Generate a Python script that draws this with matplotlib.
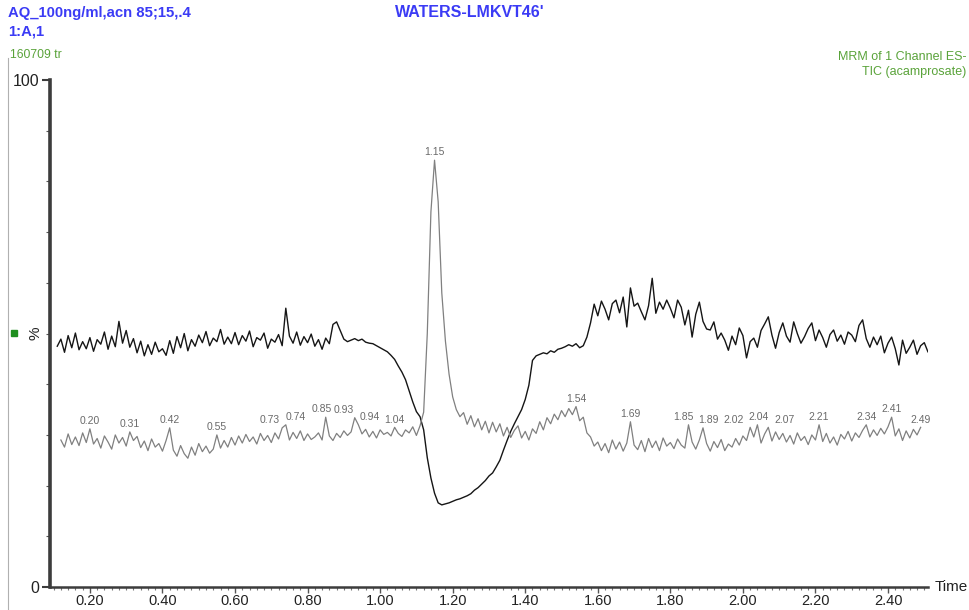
import numpy as np
import matplotlib.pyplot as plt
from matplotlib.ticker import MultipleLocator
from matplotlib.transforms import blended_transform_factory
from matplotlib.lines import Line2D

plt.rcParams['font.family'] = ['Liberation Sans', 'DejaVu Sans']

# scan grid (min) and intensities (%) of the two chromatogram traces
scan_step = 0.01
tic_start = 0.11
tic_values = [
    47.5, 48.9, 46.3, 49.6, 47.2, 50.1, 46.8, 48.4, 47.0, 49.2,
    46.5, 48.8, 47.9, 50.3, 46.9, 49.5, 47.4, 52.4, 48.1, 50.6,
    47.3, 49.0, 46.2, 48.5, 45.6, 47.8, 45.9, 48.3, 46.4, 47.0,
    45.7, 48.6, 46.1, 49.4, 47.2, 50.0, 46.6, 48.8, 47.5, 49.7,
    48.2, 50.4, 47.6, 49.1, 48.4, 50.8, 47.9, 49.3, 48.0, 50.2,
    47.8, 49.6, 48.5, 50.5, 47.4, 49.2, 48.7, 50.1, 47.1, 48.9,
    48.3, 49.8, 47.6, 55.0, 49.5, 48.1, 50.3, 47.7, 49.4, 48.2,
    49.9, 47.5, 48.8, 46.9, 49.1, 48.0, 51.8, 52.3, 50.6, 48.9,
    48.4, 48.7, 49.0, 48.6, 48.9, 48.3, 48.1, 48.0, 47.6, 47.2,
    46.8, 46.4, 45.7, 44.9, 43.6, 42.4, 40.9, 38.7, 36.5, 34.6,
    33.6, 31.0, 25.5, 21.5, 18.5, 16.6, 16.2, 16.4, 16.6, 16.9,
    17.2, 17.4, 17.7, 18.0, 18.4, 19.1, 19.6, 20.3, 21.0, 21.9,
    22.5, 23.7, 25.0, 27.0, 28.9, 30.7, 32.2, 33.6, 35.0, 37.0,
    39.8, 44.7, 45.6, 45.9, 46.2, 46.0, 46.6, 46.3, 46.9, 47.1,
    47.4, 47.8, 47.5, 48.0, 47.2, 47.6, 49.3, 52.1, 55.8, 53.5,
    56.4, 54.8, 52.7, 55.9, 56.6, 54.1, 57.2, 51.3, 59.0, 55.4,
    56.0, 54.3, 52.7, 55.5, 60.9, 54.0, 56.2, 54.8, 56.6, 55.0,
    53.1, 56.6, 55.2, 51.7, 54.6, 49.3, 53.8, 56.2, 52.4, 50.9,
    50.7, 52.3, 48.9, 50.1, 48.7, 46.7, 49.5, 47.8, 51.1, 49.6,
    45.2, 48.4, 49.1, 47.3, 50.6, 51.9, 53.3, 49.7, 47.1, 50.2,
    52.1, 49.5, 48.3, 52.3, 50.0, 48.1, 49.4, 51.0, 52.1, 48.6,
    50.7, 49.2, 47.3, 49.8, 50.7, 48.5, 49.7, 47.9, 50.3, 49.7,
    48.4, 51.6, 52.7, 49.0, 47.3, 49.3, 47.8, 49.5, 46.2, 48.1,
    49.3, 47.0, 43.8, 48.7, 46.1, 47.3, 48.7, 45.9, 47.6, 48.2,
    46.4,
]

mrm_start = 0.12
mrm_values = [
    29.0, 27.6, 30.2, 28.1, 29.6, 27.9, 30.4, 28.5, 31.2, 28.2,
    29.3, 27.4, 29.8, 28.6, 27.2, 30.0, 28.4, 29.5, 27.8, 30.6,
    28.9, 29.7, 27.5, 28.8, 26.9, 29.2, 27.6, 28.3, 26.8, 28.9,
    31.4, 27.0, 25.8, 27.9, 26.3, 25.4, 27.6, 26.0, 28.3, 26.7,
    27.8, 26.4, 27.2, 30.0, 27.4, 28.9, 27.6, 29.5, 28.0, 29.8,
    28.4, 30.1, 28.7, 29.6, 28.2, 30.3, 28.9, 29.9, 28.5, 30.4,
    29.2, 31.4, 32.0, 29.0, 30.5, 29.3, 30.8, 28.9, 30.2, 29.1,
    29.6, 30.4, 29.0, 33.5, 29.8, 28.9, 30.3, 29.5, 30.8, 29.9,
    30.6, 33.4, 32.0, 30.2, 31.1, 29.6, 30.7, 29.4, 31.0, 30.1,
    30.5, 29.8, 31.5, 30.3, 29.7, 31.0, 30.4, 31.6, 29.9, 31.8,
    34.5, 50.0, 74.0, 84.2, 76.0, 58.0, 48.5, 42.0, 37.5, 35.0,
    33.6, 34.4, 32.1, 33.8, 31.6, 33.2, 31.0, 32.7, 30.4, 32.5,
    30.6, 32.2, 29.8, 31.5, 29.5, 30.9, 31.8, 29.4, 30.7, 29.0,
    31.2, 30.3, 32.6, 31.0, 33.4, 32.2, 34.1, 33.0, 34.8, 33.6,
    35.2, 34.0, 35.6, 32.8, 33.5, 30.4, 29.6, 27.8, 28.6, 26.9,
    28.3, 26.5, 29.0, 27.2, 28.6, 26.8, 28.4, 32.6, 28.0, 27.1,
    28.9, 26.7, 29.3, 27.5, 28.8, 26.9, 29.4, 27.8, 28.5, 27.3,
    29.2, 28.0, 27.4, 32.0, 28.6, 27.2, 29.0, 31.4, 28.3, 26.8,
    28.7, 27.5, 29.1, 26.9, 28.2, 27.6, 29.3, 28.0, 29.8, 28.9,
    31.5, 29.6, 32.0, 28.4, 30.2, 31.5, 28.8, 30.6, 29.1, 30.3,
    28.6, 29.9, 28.2, 30.4, 28.9, 29.7, 28.1, 30.0, 29.0, 32.0,
    28.7, 30.3, 28.4, 29.6, 28.0, 30.1, 29.2, 30.7, 28.8, 30.4,
    29.5, 30.9, 32.0, 29.6, 31.0, 29.9, 31.3, 30.2, 31.6, 33.5,
    29.8, 31.2, 28.9, 30.8, 29.4, 31.1, 30.0, 31.5,
]

# retention times annotated on the lower trace
peak_labels = ['0.20', '0.31', '0.42', '0.55', '0.73', '0.74', '0.85', '0.93',
               '0.94', '1.04', '1.15', '1.54', '1.69', '1.85', '1.89', '2.02',
               '2.04', '2.07', '2.21', '2.34', '2.41', '2.49']

x_ticks = [0.20, 0.40, 0.60, 0.80, 1.00, 1.20, 1.40, 1.60, 1.80, 2.00, 2.20, 2.40]

# sideways nudge (points) for labels that would collide
label_nudge = {'0.73': -9, '0.74': 7, '0.85': -3, '0.93': -8, '0.94': 8,
               '1.85': -4, '1.89': 4, '2.02': -12, '2.04': 1, '2.07': 12}

tic_time = np.round(tic_start + scan_step * np.arange(len(tic_values)), 2)
mrm_time = np.round(mrm_start + scan_step * np.arange(len(mrm_values)), 2)

blue = '#3b3bf5'
green = '#5aa33a'

fig = plt.figure(figsize=(9.69, 6.10), dpi=100)
ax = fig.add_axes([0.0516, 0.0377, 0.906, 0.831])

ax.plot(tic_time, tic_values, color='#151515', lw=1.0)
ax.plot(mrm_time, mrm_values, color='#808080', lw=0.9)

# peak annotations
for lab in peak_labels:
    t = float(lab)
    i = int(np.argmin(np.abs(mrm_time - t)))
    ax.annotate(lab, (t, mrm_values[i]), xytext=(label_nudge.get(lab, 0), 2),
                textcoords='offset points', fontsize=7.5, color='#6a6a6a',
                ha='center', va='bottom')

ax.set_xlim(0.09, 2.51)
ax.set_ylim(0, 100)

for side in ['top', 'right']:
    ax.spines[side].set_visible(False)
ax.spines['left'].set_linewidth(2.6)
ax.spines['left'].set_color('#3c3c3c')
ax.spines['bottom'].set_linewidth(1.8)
ax.spines['bottom'].set_color('#3c3c3c')

ax.set_xticks(x_ticks)
ax.set_xticklabels(['%.2f' % v for v in x_ticks])
ax.xaxis.set_minor_locator(MultipleLocator(0.02))
ax.tick_params(axis='x', which='major', length=4, width=1, color='#555555',
               labelsize=10.5, pad=1, labelcolor='#222222')
ax.tick_params(axis='x', which='minor', length=2.5, width=0.8, color='#777777')

ax.set_yticks([0, 100])
ax.set_yticklabels(['0', '100'])
ax.yaxis.set_minor_locator(MultipleLocator(10))
ax.tick_params(axis='y', which='major', length=6, width=1.5, color='#3c3c3c',
               labelsize=11.5, pad=2, labelcolor='#222222')
ax.tick_params(axis='y', which='minor', length=3, width=0.8, color='#555555')

ytrans = blended_transform_factory(ax.transAxes, ax.transData)
ax.text(-0.016, 50, '%', transform=ytrans, rotation=90, fontsize=11,
        ha='center', va='center', color='#222222')
ax.text(1.008, 0, 'Time', transform=ytrans, fontsize=11, ha='left',
        va='center', color='#222222')

# header block
fig.text(0.008, 0.979, 'AQ_100ng/ml,acn 85;15,.4', color=blue, fontsize=10.7,
         fontweight='bold', ha='left', va='center')
fig.text(0.008, 0.949, '1:A,1', color=blue, fontsize=10.7, fontweight='bold',
         ha='left', va='center')
fig.text(0.010, 0.910, '160709 tr', color=green, fontsize=8.8, ha='left',
         va='center')
fig.text(0.485, 0.979, "WATERS-LMKVT46'", color=blue, fontsize=11.5,
         fontweight='bold', ha='center', va='center')
fig.text(0.997, 0.906, 'MRM of 1 Channel ES-', color=green, fontsize=9,
         ha='right', va='center')
fig.text(0.997, 0.882, 'TIC (acamprosate)', color=green, fontsize=9,
         ha='right', va='center')

# window frame line and channel marker on the left
fig.add_artist(Line2D([0.0083, 0.0083], [0.0, 0.905], color='#b0b0b0',
                      lw=0.8, transform=fig.transFigure))
fig.add_artist(Line2D([0.0145], [0.454], marker='s', markersize=5,
                      color='#1f8f1f', transform=fig.transFigure))

fig.savefig('out.png', dpi=100)
